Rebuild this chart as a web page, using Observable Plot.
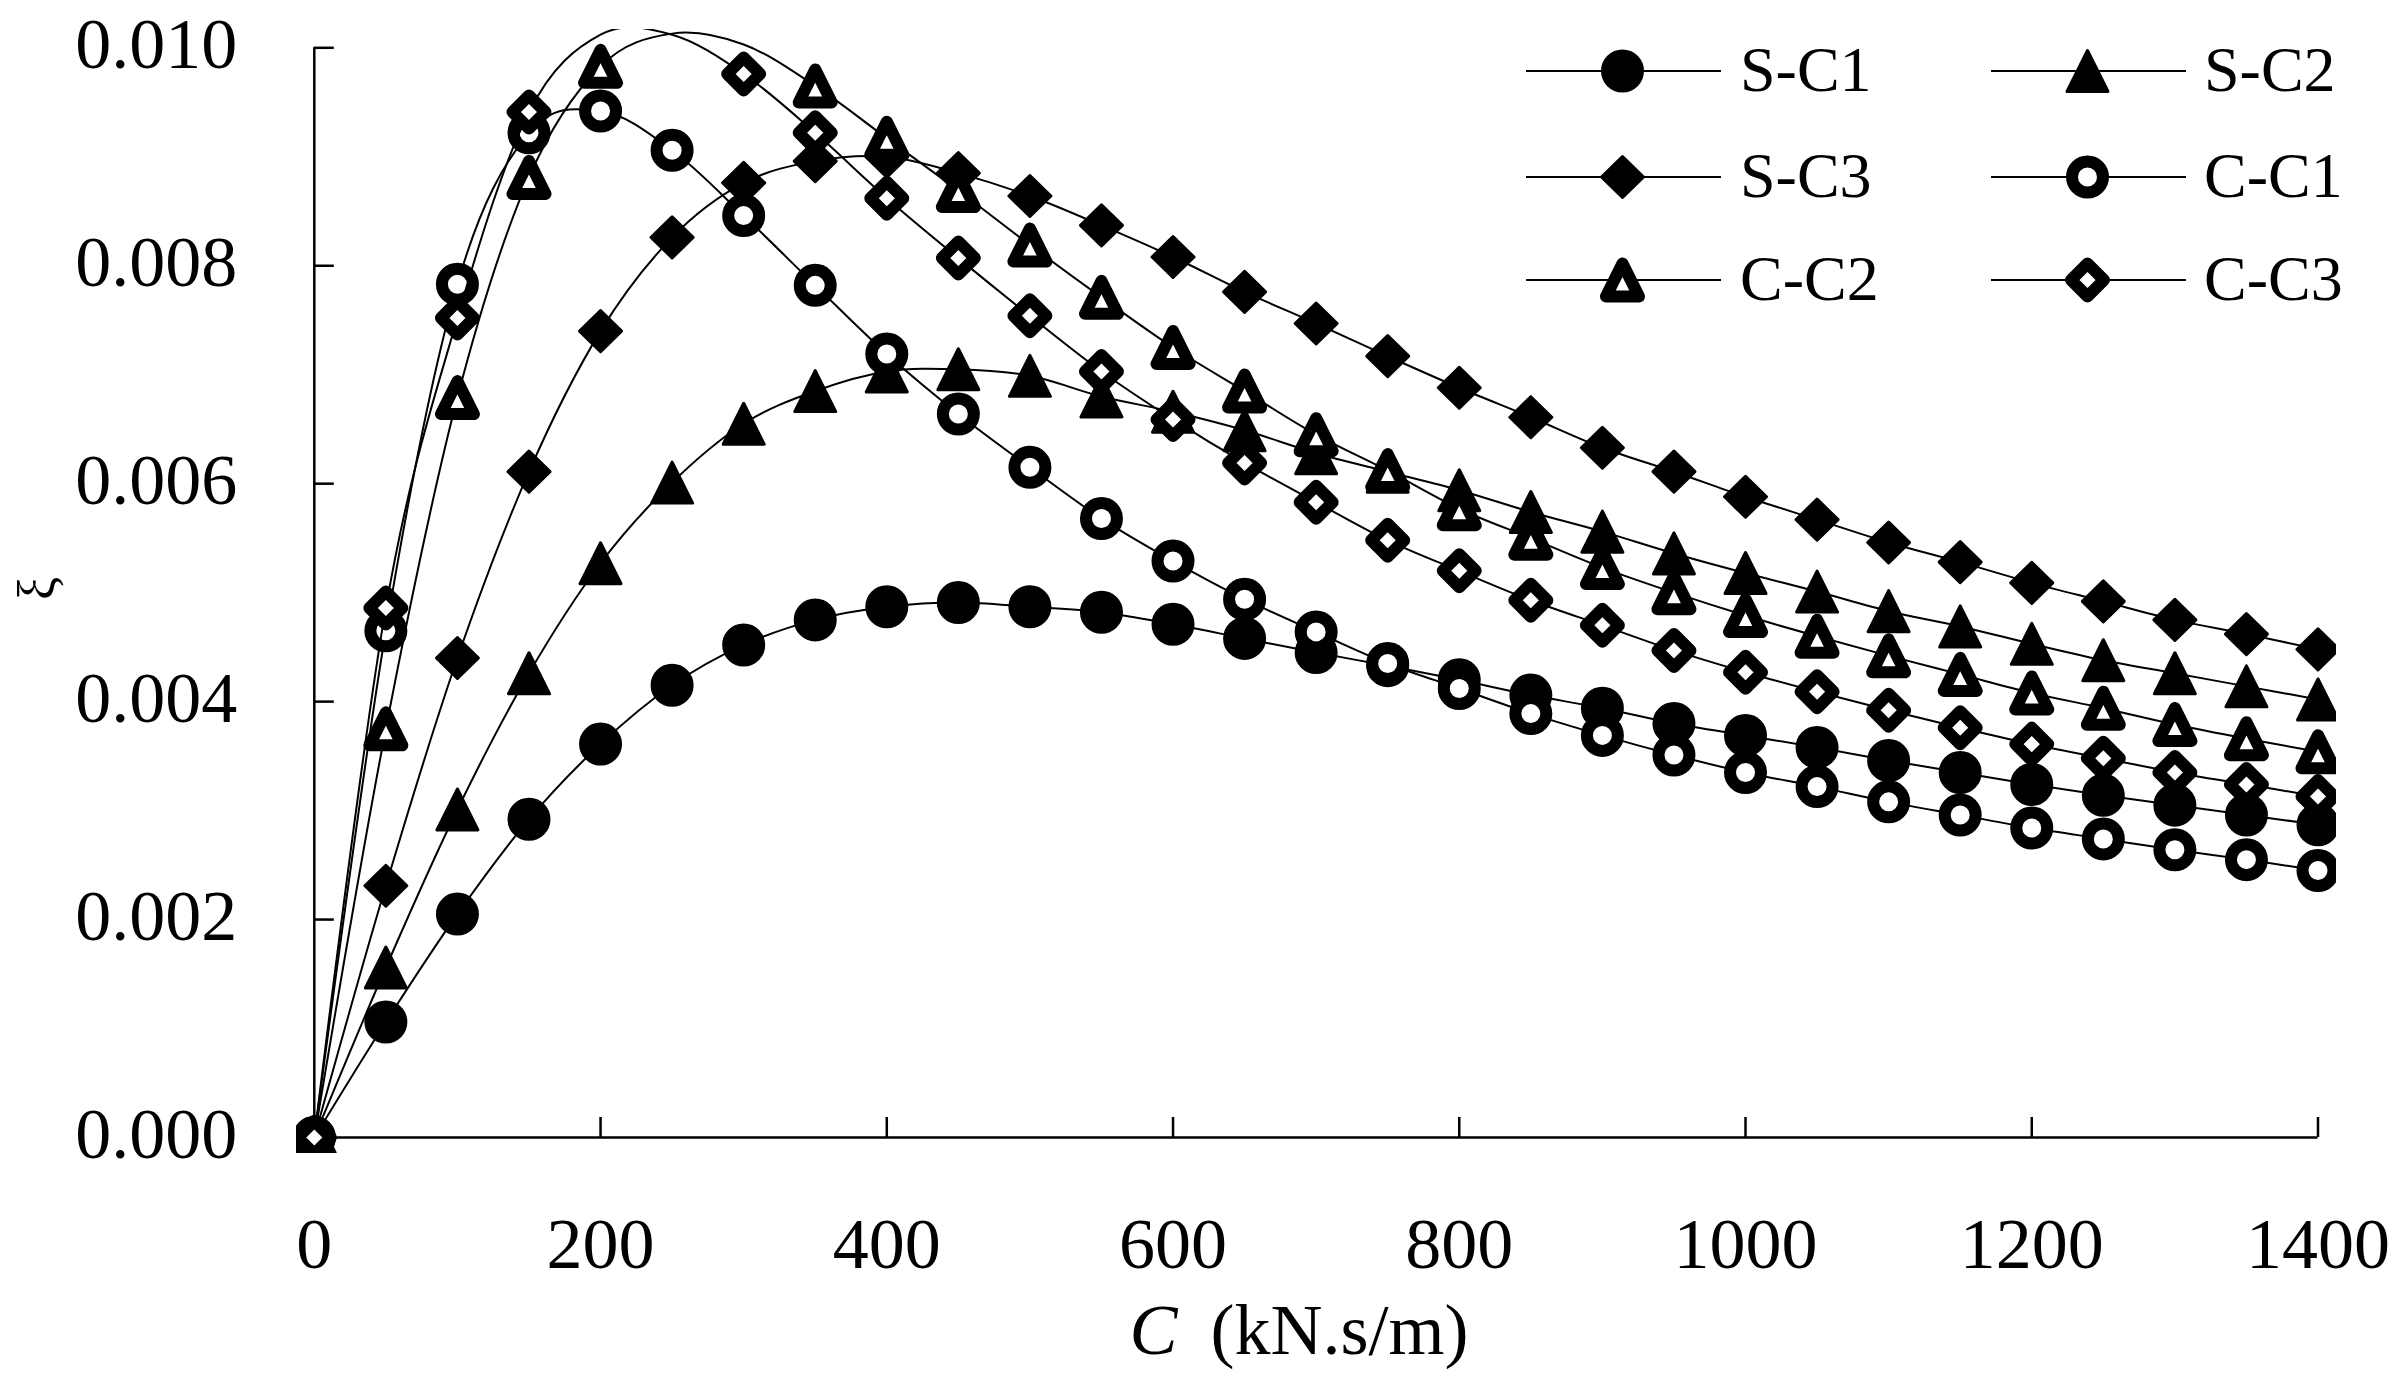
<!DOCTYPE html>
<html>
<head>
<meta charset="utf-8">
<script src="https://cdn.jsdelivr.net/npm/d3@7"></script>
<script src="https://cdn.jsdelivr.net/npm/@observablehq/plot@0.6"></script>
<style>
  html, body { margin: 0; padding: 0; background: #fff; overflow: hidden; }
  #wrap { position: relative; width: 2407px; height: 1377px; }
  #wrap svg { position: absolute; left: 0; top: 0; }
</style>
</head>
<body>
<div id="wrap"></div>
<script>
// ---------------- data ----------------
const C = [0, 50, 100, 150, 200, 250, 300, 350, 400, 450, 500, 550, 600, 650, 700,
           750, 800, 850, 900, 950, 1000, 1050, 1100, 1150, 1200, 1250, 1300, 1350, 1400];

const S_C1 = [0, 0.00106, 0.00205, 0.00292, 0.00361, 0.00415, 0.00452, 0.00475, 0.00487, 0.00491,
              0.00487, 0.00482, 0.00471, 0.00458, 0.00445, 0.00433, 0.00420, 0.00406, 0.00394, 0.00380,
              0.00369, 0.00358, 0.00346, 0.00335, 0.00324, 0.00314, 0.00305, 0.00296, 0.00287];
const S_C2 = [0, 0.00156, 0.00301, 0.00426, 0.00527, 0.00601, 0.00655, 0.00685, 0.00703, 0.00705,
              0.00699, 0.00680, 0.00666, 0.00649, 0.00628, 0.00611, 0.00594, 0.00574, 0.00556, 0.00536,
              0.00518, 0.00501, 0.00483, 0.00469, 0.00453, 0.00438, 0.00426, 0.00414, 0.00402];
const S_C3 = [0, 0.00231, 0.00440, 0.00611, 0.00740, 0.00826, 0.00876, 0.00896, 0.00900, 0.00885,
              0.00864, 0.00837, 0.00808, 0.00776, 0.00747, 0.00717, 0.00688, 0.00661, 0.00633, 0.00611,
              0.00588, 0.00567, 0.00546, 0.00528, 0.00509, 0.00492, 0.00475, 0.00462, 0.00448];
const C_C1 = [0, 0.00465, 0.00783, 0.00922, 0.00942, 0.00906, 0.00846, 0.00782, 0.00719, 0.00664,
              0.00615, 0.00568, 0.00529, 0.00494, 0.00464, 0.00435, 0.00412, 0.00389, 0.00369, 0.00351,
              0.00335, 0.00322, 0.00308, 0.00296, 0.00284, 0.00274, 0.00264, 0.00255, 0.00245];
const C_C2 = [0, 0.00375, 0.00679, 0.00881, 0.00983, 0.01013, 0.01003, 0.00965, 0.00917, 0.00869,
              0.00819, 0.00771, 0.00725, 0.00685, 0.00645, 0.00612, 0.00577, 0.00550, 0.00523, 0.00500,
              0.00479, 0.00460, 0.00442, 0.00425, 0.00408, 0.00394, 0.00379, 0.00366, 0.00354];
const C_C3 = [0, 0.00486, 0.00752, 0.00941, 0.01012, 0.01012, 0.00976, 0.00922, 0.00862, 0.00807,
              0.00754, 0.00703, 0.00659, 0.00619, 0.00583, 0.00548, 0.00520, 0.00493, 0.00470, 0.00447,
              0.00427, 0.00409, 0.00392, 0.00376, 0.00361, 0.00348, 0.00335, 0.00324, 0.00313];

const seriesNames = ["S-C1", "S-C2", "S-C3", "C-C1", "C-C2", "C-C3"];
const seriesValues = [S_C1, S_C2, S_C3, C_C1, C_C2, C_C3];
const seriesShapes = ["circle", "triangle", "diamond", "circle", "triangle", "diamond"];
const seriesOpen = [false, false, false, true, true, true];

const xTicks = [0, 200, 400, 600, 800, 1000, 1200, 1400];
const xTickLabels = ["0", "200", "400", "600", "800", "1000", "1200", "1400"];
const yTicks = [0, 0.002, 0.004, 0.006, 0.008, 0.010];
const yTickLabels = ["0.000", "0.002", "0.004", "0.006", "0.008", "0.010"];
const xLabelItalic = "C";
const xLabelRest = "(kN.s/m)";
const yLabel = "ξ";

// ---------------- layout ----------------
const W = 2407, H = 1377;
const FONT = "'Liberation Serif', 'Times New Roman', serif";
const xDomain = [0, 1400], xRange = [313.8, 2317.5];
const yDomain = [0, 0.010], yRange = [1137, 47.3];
const pxPerX = (xRange[1] - xRange[0]) / (xDomain[1] - xDomain[0]);
const pxPerY = (yRange[0] - yRange[1]) / (yDomain[1] - yDomain[0]);
const tickLen = 20;

// marker shapes
function shapePath(ctx, shape, open) {
  if (shape === "circle") {
    const r = open ? 15.5 : 20;
    ctx.moveTo(r, 0);
    ctx.arc(0, 0, r, 0, 2 * Math.PI);
    ctx.closePath();
  } else if (shape === "triangle") {
    const h = open ? 16.5 : 20.5, w = open ? 16.5 : 20.5;
    ctx.moveTo(0, -h); ctx.lineTo(w, h); ctx.lineTo(-w, h); ctx.closePath();
  } else {
    const a = open ? 16.5 : 21, b = open ? 16.5 : 20.5;
    ctx.moveTo(0, -b); ctx.lineTo(a, 0); ctx.lineTo(0, b); ctx.lineTo(-a, 0); ctx.closePath();
  }
}
const symbolOf = (shape, open) => ({ draw(ctx) { shapePath(ctx, shape, open); } });
const styleOf = (open) => open
  ? { fill: "white", stroke: "black", strokeWidth: 12 }
  : { fill: "black", stroke: "black", strokeWidth: 3 };

// ---------------- marks ----------------
const marks = [];

// axes lines and ticks
marks.push(Plot.ruleX([0], { y1: yDomain[0], y2: yDomain[1], stroke: "black", strokeWidth: 2.5 }));
marks.push(Plot.ruleY([0], { x1: xDomain[0], x2: xDomain[1], stroke: "black", strokeWidth: 2.5 }));
marks.push(Plot.ruleY(yTicks, { y: d => d, x1: 0, x2: tickLen / pxPerX, stroke: "black", strokeWidth: 2.5 }));
marks.push(Plot.ruleX(xTicks, { x: d => d, y1: 0, y2: tickLen / pxPerY, stroke: "black", strokeWidth: 2.5 }));

// tick labels
marks.push(Plot.text(yTicks, {
  x: 0, y: d => d, text: (d, i) => yTickLabels[i],
  textAnchor: "end", lineAnchor: "bottom", dx: -77, dy: 20,
  fontSize: 72, fontFamily: FONT, fill: "black"
}));
marks.push(Plot.text(xTicks, {
  x: d => d, y: 0, text: (d, i) => xTickLabels[i],
  textAnchor: "middle", lineAnchor: "bottom", dy: 130,
  fontSize: 72, fontFamily: FONT, fill: "black"
}));

// axis titles
marks.push(Plot.text([xLabelItalic], {
  frameAnchor: "bottom", text: d => d, textAnchor: "end", lineAnchor: "bottom",
  dx: -139, dy: 200, fontSize: 72, fontStyle: "italic", fontFamily: FONT, fill: "black"
}));
marks.push(Plot.text([xLabelRest], {
  frameAnchor: "bottom", text: d => d, textAnchor: "start", lineAnchor: "bottom",
  dx: -106, dy: 200, fontSize: 72, fontFamily: FONT, fill: "black"
}));
marks.push(Plot.text([yLabel], {
  frameAnchor: "left", text: d => d, textAnchor: "middle", lineAnchor: "middle",
  rotate: -90, dx: -259, dy: -3, fontSize: 52, fontFamily: FONT, fill: "black"
}));

// series: line then markers
seriesNames.forEach((name, s) => {
  const rows = C.map((c, i) => ({ c, v: seriesValues[s][i], name }));
  marks.push(Plot.line(rows, {
    x: "c", y: "v", curve: "cardinal", stroke: "black", strokeWidth: 2, clip: true
  }));
  marks.push(Plot.dot(rows.filter(d => d.v <= yDomain[1]), {
    x: "c", y: "v", r: 20, symbol: symbolOf(seriesShapes[s], seriesOpen[s]),
    ...styleOf(seriesOpen[s]), strokeLinejoin: "round", clip: true
  }));
});

const chart = Plot.plot({
  width: W, height: H,
  marginLeft: 296, marginRight: W - 2336, marginTop: 29, marginBottom: H - 1153,
  x: { type: "linear", domain: xDomain, range: xRange, axis: null },
  y: { type: "linear", domain: yDomain, range: yRange, axis: null },
  style: { background: "white", overflow: "visible" },
  marks
});
document.getElementById("wrap").appendChild(chart);

// ---------------- legend (overlay) ----------------
const legCols = [{ line: 1526, text: 1740 }, { line: 1991, text: 2204 }];
const legRows = [71, 177, 280];
const legLineLen = 195;
const leg = d3.select("#wrap").append("svg")
  .attr("width", W).attr("height", H)
  .style("pointer-events", "none");
seriesNames.forEach((name, s) => {
  const col = legCols[s % 2], y = legRows[Math.floor(s / 2)];
  const g = leg.append("g");
  g.append("line").attr("x1", col.line).attr("x2", col.line + legLineLen)
    .attr("y1", y).attr("y2", y).attr("stroke", "black").attr("stroke-width", 2);
  const p = d3.path();
  shapePath(p, seriesShapes[s], seriesOpen[s]);
  const st = styleOf(seriesOpen[s]);
  g.append("path").attr("d", p.toString())
    .attr("transform", `translate(${col.line + legLineLen / 2 - 1},${y})`)
    .attr("fill", st.fill).attr("stroke", st.stroke).attr("stroke-width", st.strokeWidth)
    .attr("stroke-linejoin", "round");
  g.append("text").attr("x", col.text).attr("y", y + 20)
    .attr("font-family", FONT).attr("font-size", 64).attr("fill", "black")
    .text(name);
});
</script>
</body>
</html>
